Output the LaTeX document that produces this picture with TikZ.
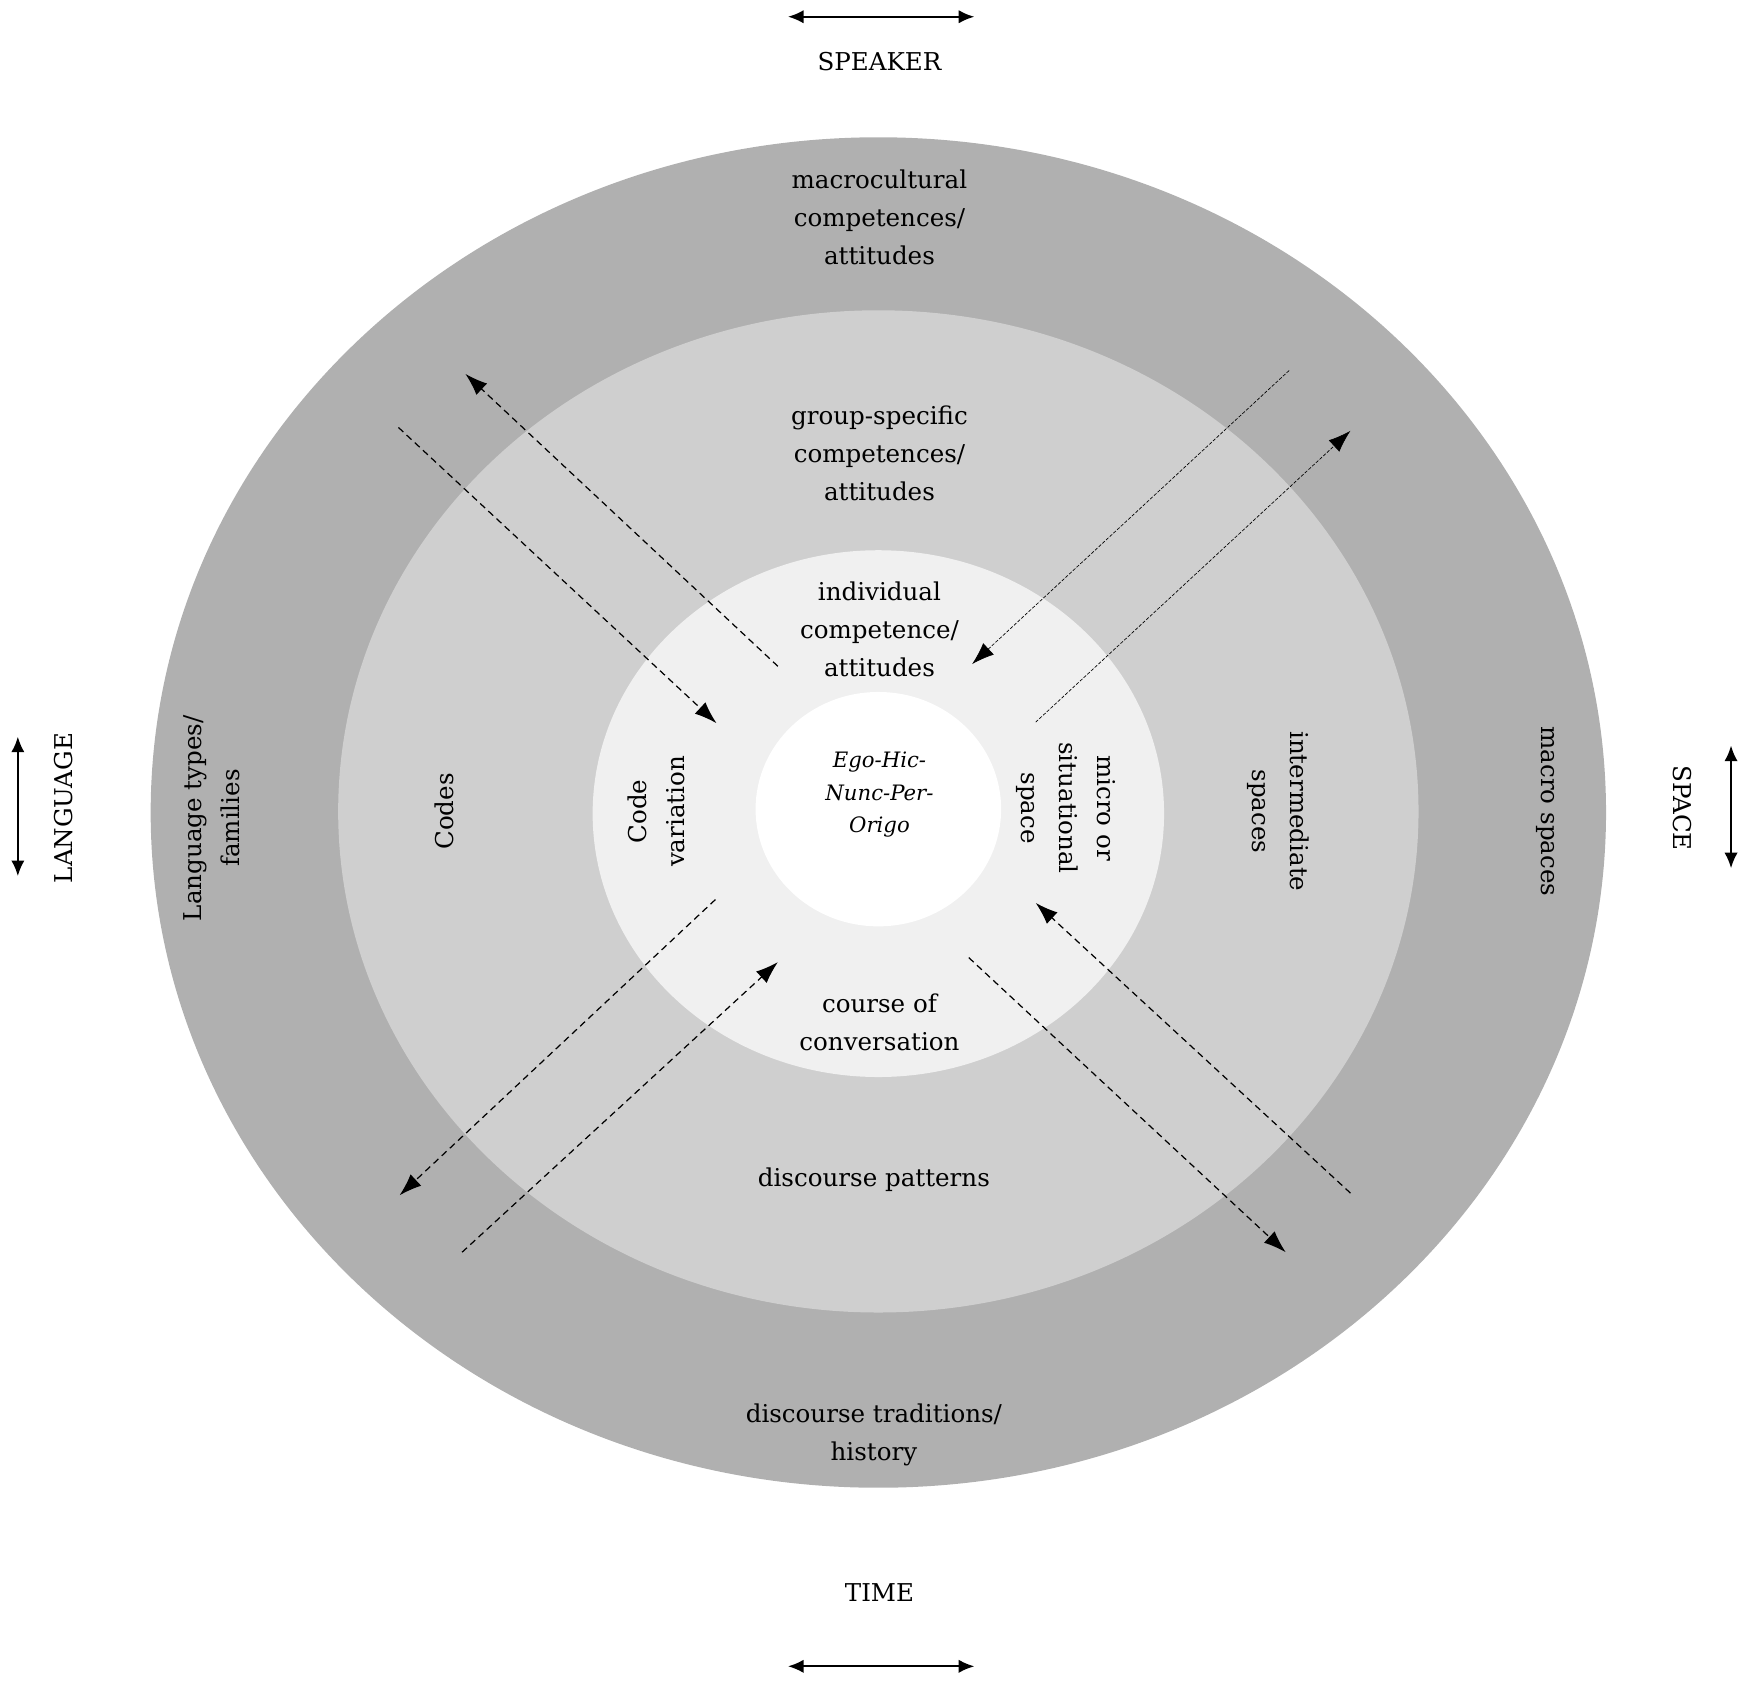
\documentclass[tikz,border=0pt]{standalone}
\usepackage{fontspec}
\setmainfont{DejaVu Serif}
\usetikzlibrary{arrows.meta}
\begin{document}
\begin{tikzpicture}[x=1pt,y=-1pt,
  lbl/.style={align=center,font=\fontsize{22}{34}\selectfont,inner sep=0pt},
  dar/.style={dash pattern=on 6pt off 4pt,line width=1.1pt,-{Latex[length=20pt,width=14pt]}},
  thin/.style={dash pattern=on 3pt off 1.5pt,line width=0.6pt,-{Latex[length=20pt,width=14pt]}},
  axis/.style={line width=2pt,{Latex[length=14pt,width=12pt]}-{Latex[length=14pt,width=12pt]}}]
\useasboundingbox (0,0) rectangle (1568,1510);
\fill[fill={rgb,255:red,176;green,176;blue,176}] (787,728) ellipse [x radius=652,y radius=605];
\fill[fill={rgb,255:red,207;green,207;blue,207}] (787,727) ellipse [x radius=484,y radius=449];
\fill[fill={rgb,255:red,240;green,240;blue,240}] (787,729) ellipse [x radius=256,y radius=236];
\fill[white] (787,725) ellipse [x radius=110,y radius=105];
% arrows
\coordinate (a1) at (697,597); \coordinate (b1) at (417,335);
\coordinate (a2) at (357,383); \coordinate (b2) at (642,648);
\coordinate (a3) at (1155,332); \coordinate (b3) at (871,595);
\coordinate (a4) at (928,647); \coordinate (b4) at (1210,386);
\coordinate (a5) at (641,806); \coordinate (b5) at (358,1071);
\coordinate (a6) at (414,1122); \coordinate (b6) at (697,862);
\coordinate (a7) at (868,858); \coordinate (b7) at (1152,1122);
\coordinate (a8) at (1210,1069); \coordinate (b8) at (928,809);
\draw[dar] (a1) -- (b1);
\draw[dar] (a2) -- (b2);
\draw[thin] (a3) -- (b3);
\draw[thin] (a4) -- (b4);
\draw[dar] (a5) -- (b5);
\draw[dar] (a6) -- (b6);
\draw[dar] (a7) -- (b7);
\draw[dar] (a8) -- (b8);
% axes
\coordinate (s1) at (706,15); \coordinate (s2) at (873,15);
\draw[axis] (s1) -- (s2);
\coordinate (t1) at (706,1493); \coordinate (t2) at (873,1493);
\draw[axis] (t1) -- (t2);
\coordinate (l1) at (16,660); \coordinate (l2) at (16,785);
\draw[axis] (l1) -- (l2);
\coordinate (p1) at (1551,668); \coordinate (p2) at (1551,778);
\draw[axis] (p1) -- (p2);
\node[lbl] (spk) at (788,55) {SPEAKER};
\node[lbl] (tim) at (788,1427) {TIME};
\node[lbl,rotate=90] (lan) at (57,724) {LANGUAGE};
\node[lbl,rotate=-90] (spa) at (1507,724) {SPACE};
% labels
\node[lbl] (mac) at (788,195) {macrocultural\\competences/\\attitudes};
\node[lbl] (grp) at (788,406) {group-specific\\competences/\\attitudes};
\node[lbl] (ind) at (788,564) {individual\\competence/\\attitudes};
\node[lbl,font=\fontsize{19}{29}\selectfont\itshape] (ego) at (788,712) {Ego-Hic-\\Nunc-Per-\\Origo};
\node[lbl] (cou) at (788,916) {course of\\conversation};
\node[lbl] (dpa) at (783,1057) {discourse patterns};
\node[lbl] (dtr) at (783,1286) {discourse traditions/\\history};
\node[lbl,rotate=90] (lt) at (190,733) {Language types/\\families};
\node[lbl,rotate=90] (cod) at (398,727) {Codes};
\node[lbl,rotate=90] (cv) at (588,727) {Code\\variation};
\node[lbl,rotate=-90] (mic) at (955,724) {micro or\\situational\\space};
\node[lbl,rotate=-90] (int) at (1145,727) {intermediate\\spaces};
\node[lbl,rotate=-90] (msp) at (1385,727) {macro spaces};
\end{tikzpicture}
\end{document}
